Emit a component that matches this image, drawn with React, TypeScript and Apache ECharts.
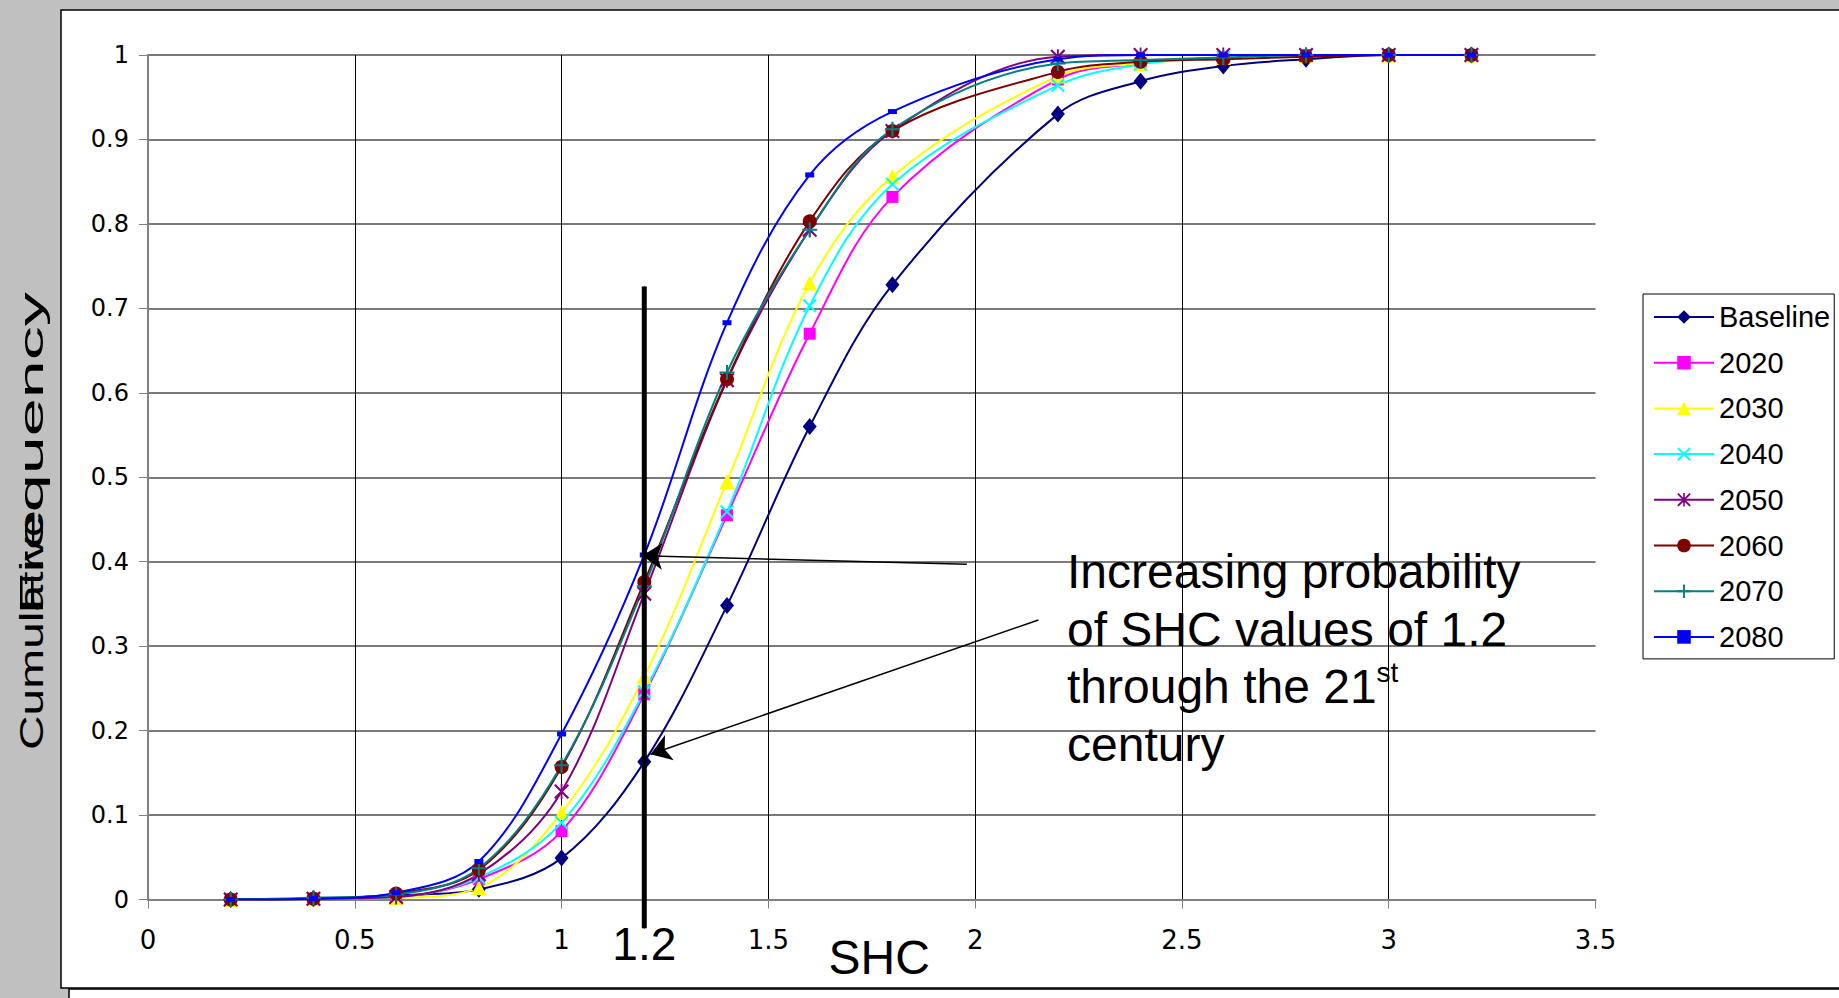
import React, { useEffect, useRef } from "react";
import * as echarts from "echarts";

// SHC values at which the cumulative frequencies were sampled
const shcValues = [0.2, 0.4, 0.6, 0.8, 1.0, 1.2, 1.4, 1.6, 1.8, 2.2, 2.4, 2.6, 2.8, 3.0, 3.2];

// Cumulative frequency per scenario
const baseline = [0, 0.001, 0.005, 0.012, 0.049, 0.163, 0.348, 0.56, 0.728, 0.93, 0.969, 0.987, 0.995, 1.0, 1.0];
const y2020 = [0, 0.001, 0.003, 0.024, 0.081, 0.243, 0.455, 0.67, 0.832, 0.971, 0.99, 0.997, 1.0, 1.0, 1.0];
const y2030 = [0, 0.001, 0.002, 0.014, 0.103, 0.264, 0.495, 0.73, 0.856, 0.975, 0.99, 0.997, 1.0, 1.0, 1.0];
const y2040 = [0, 0.001, 0.003, 0.026, 0.091, 0.246, 0.459, 0.703, 0.847, 0.964, 0.989, 0.997, 1.0, 1.0, 1.0];
const y2050 = [0, 0.001, 0.003, 0.03, 0.128, 0.362, 0.615, 0.793, 0.91, 0.998, 1.0, 1.0, 1.0, 1.0, 1.0];
const y2060 = [0, 0.001, 0.007, 0.035, 0.157, 0.376, 0.616, 0.803, 0.91, 0.98, 0.992, 0.995, 0.998, 1.0, 1.0];
const y2070 = [0, 0.002, 0.006, 0.037, 0.159, 0.371, 0.624, 0.793, 0.912, 0.99, 0.994, 0.997, 1.0, 1.0, 1.0];
const y2080 = [0, 0.001, 0.008, 0.045, 0.196, 0.408, 0.683, 0.858, 0.933, 0.995, 1.0, 1.0, 1.0, 1.0, 1.0];

const seriesNames = ["Baseline", "2020", "2030", "2040", "2050", "2060", "2070", "2080"];
const seriesValues = [baseline, y2020, y2030, y2040, y2050, y2060, y2070, y2080];

// Threshold highlighted on the chart
const threshold = 1.2;
const thresholdTop = 0.726;
const thresholdBottom = -0.034;

// Annotation arrows: [from, to] in (SHC, frequency)
const arrowFlat = [[1.98, 0.397], [1.195, 0.407]];
const arrowDown = [[2.153, 0.331], [1.215, 0.172]];

const xTicks = { min: 0, max: 3.5, step: 0.5 };
const yTicks = { min: 0, max: 1, step: 0.1 };

const CROSS = "path://M0,1L1,0L5,4L9,0L10,1L6,5L10,9L9,10L5,6L1,10L0,9L4,5Z";
const STAR =
  "path://M0,1L1,0L5,4L9,0L10,1L6,5L10,9L9,10L5,6L1,10L0,9L4,5Z M4.4,0L5.6,0L5.6,10L4.4,10Z";
const PLUS =
  "path://M4.3,0L5.7,0L5.7,4.3L10,4.3L10,5.7L5.7,5.7L5.7,10L4.3,10L4.3,5.7L0,5.7L0,4.3L4.3,4.3Z";

const styles = [
  { color: "#000080", symbol: "diamond", size: [14, 17] },
  { color: "#FF00FF", symbol: "rect", size: 12 },
  { color: "#FFFF00", symbol: "triangle", size: 15 },
  { color: "#00FFFF", symbol: CROSS, size: 14 },
  { color: "#800080", symbol: STAR, size: 15 },
  { color: "#800000", symbol: "circle", size: 14 },
  { color: "#008080", symbol: PLUS, size: 15 },
  { color: "#0000FF", symbol: "rect", size: [9, 5] },
];

const SANS = '"Liberation Sans", Arial, sans-serif';
const WIDE = '"DejaVu Sans", sans-serif';

export default function App() {
  const ref = useRef<HTMLDivElement>(null);

  useEffect(() => {
    document.body.style.margin = "0";
    const chart = echarts.init(ref.current!, null, { renderer: "svg" });

    const curves = seriesNames.map((name, i) => ({
      name,
      type: "line",
      data: shcValues.map((x, j) => [x, seriesValues[i][j]]),
      smooth: 0.35,
      symbol: styles[i].symbol,
      symbolSize: styles[i].size,
      showSymbol: true,
      itemStyle: { color: styles[i].color },
      lineStyle: { color: styles[i].color, width: 2 },
      z: 3,
    }));

    const option: any = {
      animation: false,
      backgroundColor: "#c0c0c0",
      graphic: {
        elements: [
          {
            type: "rect",
            z: -100,
            shape: { x: 61, y: 10, width: 1800, height: 978 },
            style: { fill: "#ffffff", stroke: "#000000", lineWidth: 1.5 },
          },
          {
            type: "rect",
            z: -100,
            shape: { x: 69, y: 989, width: 1800, height: 40 },
            style: { fill: "#ffffff", stroke: "#000000", lineWidth: 1.5 },
          },
          {
            type: "text",
            x: 31,
            y: 750,
            rotation: Math.PI / 2,
            scaleX: 1.41,
            style: {
              text: "Cumulative",
              fontSize: 34,
              fontFamily: SANS,
              fill: "#000",
              align: "left",
              verticalAlign: "middle",
            },
          },
          {
            type: "text",
            x: 31,
            y: 292,
            rotation: Math.PI / 2,
            scaleX: 2.01,
            style: {
              text: "Frequency",
              fontSize: 34,
              fontFamily: SANS,
              fill: "#000",
              align: "right",
              verticalAlign: "middle",
            },
          },
          {
            type: "text",
            x: 1067,
            y: 543,
            z: 10,
            style: {
              text: "Increasing probability\nof SHC values of 1.2\nthrough the 21{sup|st}\ncentury",
              fontSize: 48,
              fontFamily: SANS,
              fill: "#000",
              lineHeight: 57.5,
              align: "left",
              verticalAlign: "top",
              rich: {
                sup: {
                  fontSize: 28,
                  fontFamily: SANS,
                  fill: "#000",
                  lineHeight: 40,
                  verticalAlign: "top",
                },
              },
            },
          },
        ],
      },
      grid: {
        left: 148,
        top: 55,
        width: 1447.5,
        height: 844.5,
        outerBoundsMode: "none",
      },
      legend: {
        data: seriesNames,
        orient: "vertical",
        left: 1643,
        top: 294,
        itemWidth: 60,
        itemHeight: 17,
        itemGap: 15.7,
        padding: [8, 4, 7, 10],
        backgroundColor: "#ffffff",
        borderColor: "#000000",
        borderWidth: 1,
        borderRadius: 0,
        textStyle: { fontFamily: SANS, fontSize: 29, color: "#000", lineHeight: 30 },
      },
      xAxis: {
        type: "value",
        min: xTicks.min,
        max: xTicks.max,
        interval: xTicks.step,
        name: "SHC",
        nameLocation: "middle",
        nameGap: 34,
        nameMoveOverlap: false,
        nameTextStyle: { fontFamily: SANS, fontSize: 48, color: "#000", padding: [0, 0, 0, 15] },
        axisLine: { show: true, onZero: false, lineStyle: { color: "#808080", width: 2 } },
        axisTick: { show: true, length: 9, lineStyle: { color: "#808080", width: 1 } },
        axisLabel: { fontFamily: WIDE, fontSize: 26, color: "#000", margin: 27 },
        splitLine: {
          show: true,
          showMinLine: false,
          showMaxLine: false,
          lineStyle: { color: "#000000", width: 1 },
        },
      },
      yAxis: [
        {
          type: "value",
          min: yTicks.min,
          max: yTicks.max,
          interval: yTicks.step,
          axisLine: { show: true, onZero: false, lineStyle: { color: "#808080", width: 2 } },
          axisTick: { show: true, length: 9, lineStyle: { color: "#808080", width: 1 } },
          axisLabel: { fontFamily: WIDE, fontSize: 24, color: "#000", margin: 19 },
          splitLine: {
            show: true,
            showMinLine: false,
            lineStyle: { color: "#7a7a7a", width: 2 },
          },
        },
        {
          type: "value",
          position: "right",
          min: yTicks.min,
          max: yTicks.max,
          interval: yTicks.step,
          axisLine: { show: true, lineStyle: { color: "#808080", width: 2 } },
          axisTick: { show: false },
          axisLabel: { show: false },
          splitLine: { show: false },
        },
      ],
      series: [
        ...curves,
        {
          name: "threshold",
          type: "line",
          clip: false,
          silent: true,
          z: 4,
          symbol: "circle",
          symbolSize: 1,
          itemStyle: { color: "#000" },
          lineStyle: { color: "#000", width: 5 },
          data: [
            [threshold, thresholdTop],
            {
              value: [threshold, thresholdBottom],
              label: {
                show: true,
                position: "bottom",
                distance: -8,
                formatter: (p: any) => String(p.value[0]),
                fontFamily: SANS,
                fontSize: 46,
                color: "#000",
              },
            },
          ],
          markLine: {
            silent: true,
            symbol: ["none", "arrow"],
            symbolSize: 20,
            label: { show: false },
            lineStyle: { color: "#000", width: 1.5, type: "solid" },
            data: [
              [{ coord: arrowFlat[0] }, { coord: arrowFlat[1] }],
              [{ coord: arrowDown[0] }, { coord: arrowDown[1] }],
            ],
          },
        },
      ],
    };

    chart.setOption(option);
    return () => chart.dispose();
  }, []);

  return <div ref={ref} style={{ width: 1839, height: 998 }} />;
}
